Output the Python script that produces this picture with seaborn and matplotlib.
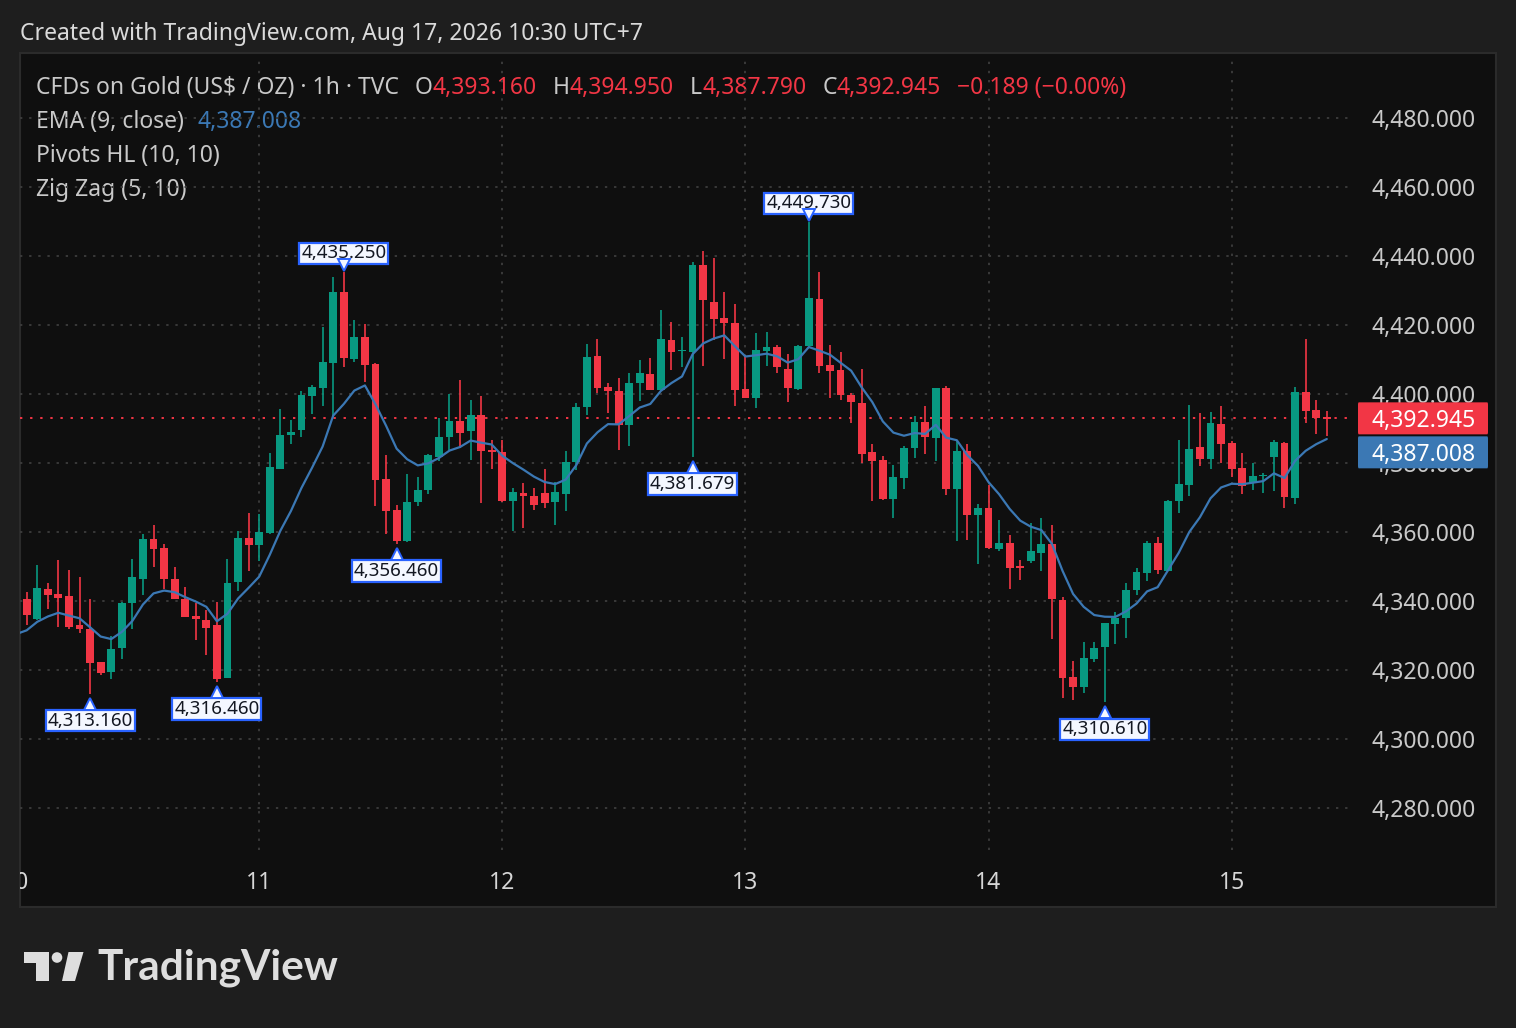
import numpy as np
import pandas as pd
import seaborn as sns
import matplotlib.pyplot as plt
from matplotlib import transforms
from matplotlib.patches import Rectangle, Polygon, Circle, FancyBboxPatch

# hourly candles, CFDs on Gold (TVC)
opens = [4332.0, 4340.6, 4334.7, 4343.4, 4341.9, 4341.5, 4333.0, 4332.0, 4322.2, 4319.5,
         4326.3, 4339.3, 4346.5, 4358.1, 4355.5, 4346.5, 4340.7, 4335.6, 4334.5, 4333.0,
         4317.8, 4345.5, 4358.3, 4356.3, 4359.7, 4378.4, 4388.0, 4389.5, 4399.3, 4401.8,
         4409.0, 4429.6, 4410.2, 4416.6, 4408.7, 4375.4, 4366.4, 4357.5, 4368.8, 4372.2,
         4381.8, 4387.4, 4392.2, 4389.2, 4394.0, 4383.9, 4383.2, 4369.0, 4371.2, 4370.5,
         4371.2, 4368.8, 4370.9, 4380.4, 4396.2, 4411.0, 4402.0, 4400.8, 4390.9, 4403.2,
         4405.8, 4401.3, 4415.7, 4412.4, 4412.3, 4437.3, 4426.8, 4422.0, 4420.7, 4401.5,
         4398.9, 4412.6, 4413.5, 4407.3, 4401.5, 4414.0, 4427.5, 4408.4, 4407.0, 4399.7,
         4397.4, 4383.2, 4380.8, 4369.6, 4375.7, 4384.3, 4391.8, 4387.3, 4401.6, 4372.5,
         4383.6, 4364.8, 4367.0, 4355.2, 4356.9, 4350.2, 4351.5, 4354.0, 4356.6, 4340.4,
         4317.9, 4315.0, 4323.2, 4326.7, 4333.2, 4335.2, 4343.1, 4348.2, 4356.9, 4348.7,
         4368.9, 4373.7, 4384.5, 4381.2, 4391.4, 4385.7, 4378.5, 4374.2, 4376.1, 4381.7,
         4385.7, 4369.9, 4400.7, 4395.4, 4393.16]
highs = [4342.0, 4342.6, 4350.4, 4345.1, 4352.0, 4349.1, 4347.0, 4340.7, 4322.4, 4330.0,
         4339.8, 4352.3, 4359.5, 4361.9, 4356.6, 4349.9, 4344.1, 4339.3, 4337.3, 4339.8,
         4352.3, 4360.2, 4365.6, 4365.3, 4383.0, 4395.7, 4392.4, 4401.0, 4402.5, 4419.3,
         4433.9, 4435.25, 4421.5, 4420.3, 4409.0, 4382.3, 4367.8, 4376.7, 4375.8, 4382.5,
         4393.1, 4400.1, 4404.1, 4398.3, 4399.3, 4386.6, 4386.6, 4372.7, 4374.3, 4372.7,
         4378.4, 4374.6, 4383.5, 4397.5, 4414.4, 4416.0, 4403.3, 4404.6, 4406.0, 4409.9,
         4410.5, 4424.4, 4420.8, 4416.6, 4438.3, 4441.4, 4439.5, 4429.7, 4426.2, 4411.3,
         4417.7, 4418.1, 4414.2, 4411.6, 4414.2, 4449.73, 4435.4, 4414.3, 4412.1, 4400.3,
         4407.3, 4385.6, 4381.9, 4379.3, 4384.8, 4393.6, 4396.6, 4401.6, 4402.2, 4386.7,
         4385.5, 4368.2, 4373.5, 4363.6, 4359.0, 4352.0, 4362.7, 4364.1, 4361.9, 4341.2,
         4322.7, 4328.0, 4328.0, 4333.5, 4336.7, 4345.1, 4349.6, 4357.4, 4358.5, 4369.3,
         4386.7, 4396.8, 4394.6, 4394.7, 4396.5, 4386.4, 4382.8, 4379.9, 4377.1, 4386.8,
         4386.2, 4401.9, 4416.0, 4398.3, 4394.95]
lows = [4330.0, 4333.0, 4334.5, 4337.8, 4332.5, 4332.0, 4330.6, 4313.16, 4318.5, 4317.4,
        4323.2, 4331.9, 4341.7, 4349.9, 4343.6, 4340.7, 4335.4, 4328.7, 4324.3, 4316.46,
        4317.8, 4342.8, 4348.6, 4351.5, 4359.5, 4378.2, 4385.5, 4387.4, 4394.3, 4396.4,
        4392.9, 4407.8, 4409.4, 4403.4, 4367.4, 4359.4, 4356.46, 4357.1, 4367.6, 4371.0,
        4380.6, 4383.7, 4384.4, 4380.8, 4368.3, 4378.4, 4368.8, 4360.3, 4361.3, 4366.4,
        4367.1, 4362.1, 4366.1, 4378.0, 4393.8, 4400.4, 4394.6, 4383.7, 4384.9, 4397.9,
        4401.3, 4401.3, 4407.1, 4407.7, 4381.679, 4408.2, 4415.7, 4410.1, 4396.5, 4398.8,
        4396.0, 4408.2, 4406.1, 4397.8, 4401.3, 4414.0, 4406.1, 4398.8, 4398.4, 4391.7,
        4380.1, 4369.1, 4369.4, 4364.1, 4372.6, 4381.4, 4382.6, 4380.7, 4370.6, 4357.3,
        4357.6, 4350.8, 4355.2, 4354.4, 4343.4, 4346.2, 4351.1, 4348.7, 4329.0, 4311.8,
        4311.2, 4313.2, 4322.2, 4310.61, 4327.5, 4329.4, 4341.7, 4345.7, 4347.9, 4348.7,
        4365.6, 4370.4, 4379.0, 4378.3, 4379.9, 4375.9, 4370.9, 4372.3, 4371.2, 4372.0,
        4367.1, 4368.0, 4391.7, 4388.3, 4387.79]
closes = [4340.0, 4335.9, 4343.8, 4341.7, 4340.9, 4332.5, 4331.9, 4321.9, 4319.0, 4326.0,
          4339.3, 4347.0, 4358.1, 4355.0, 4346.3, 4340.7, 4335.4, 4334.7, 4332.2, 4317.4,
          4345.1, 4358.3, 4356.3, 4360.0, 4378.7, 4388.2, 4389.0, 4399.6, 4402.0, 4409.4,
          4429.6, 4410.5, 4416.6, 4408.4, 4375.1, 4366.1, 4357.5, 4368.8, 4372.2, 4382.3,
          4387.6, 4392.2, 4388.8, 4394.0, 4383.4, 4383.2, 4369.0, 4371.5, 4370.5, 4367.9,
          4368.3, 4371.5, 4380.4, 4396.2, 4410.7, 4401.8, 4400.8, 4390.9, 4403.2, 4406.0,
          4401.3, 4416.0, 4412.3, 4412.7, 4437.3, 4427.2, 4421.7, 4420.7, 4401.3, 4398.9,
          4412.7, 4413.5, 4407.9, 4401.8, 4414.0, 4427.8, 4408.2, 4406.8, 4399.7, 4397.6,
          4382.5, 4380.7, 4369.6, 4375.8, 4384.3, 4391.8, 4387.4, 4401.6, 4372.5, 4383.6,
          4364.8, 4367.0, 4355.5, 4356.9, 4349.7, 4349.7, 4354.5, 4356.6, 4340.5, 4317.6,
          4315.2, 4323.4, 4326.4, 4333.5, 4335.2, 4343.3, 4348.4, 4356.9, 4348.9, 4369.0,
          4374.0, 4384.2, 4381.2, 4391.7, 4385.5, 4378.3, 4373.3, 4376.1, 4376.6, 4386.0,
          4370.2, 4400.5, 4395.2, 4393.134, 4392.945]

ema_seed = 4328.0          # EMA value just before the first visible bar
ema_shown = 4387.008       # value printed in the legend
day_labels = ["10", "11", "12", "13", "14", "15"]
day_starts = [0, 23, 46, 69, 92, 115]
price_ticks = [4280, 4300, 4320, 4340, 4360, 4380, 4400, 4420, 4440, 4460, 4480]
pivot_high_idx = [31, 75]
pivot_low_idx = [7, 19, 36, 64, 103]

# colours
BG = "#1e1e1e"
PANEL = "#0f0f0f"
BORDER = "#2b2b2b"
GREEN = "#089981"
RED = "#f23645"
EMA_C = "#3b78b4"
GRID = "#3a3a3a"
TXT = "#c9c9c9"
PIVOT_EC = "#2962ff"
FS = 16.5

W, H = 1516, 1028

sns.set_theme(style="dark", rc={"figure.facecolor": BG, "axes.facecolor": "none"})
plt.rcParams["font.family"] = ["Noto Sans", "DejaVu Sans"]

df = pd.DataFrame({"i": np.arange(len(closes)), "open": opens, "high": highs,
                   "low": lows, "close": closes})
df["ema"] = pd.Series([ema_seed] + closes).ewm(alpha=2 / 10, adjust=False).mean().iloc[1:].values

fig = plt.figure(figsize=(W / 100, H / 100), dpi=100)

# background layer in pixel coordinates
bg = fig.add_axes([0, 0, 1, 1])
bg.set_xlim(0, W)
bg.set_ylim(H, 0)
bg.axis("off")
bg.add_patch(Rectangle((20, 53), 1476, 854, fc=PANEL, ec=BORDER, lw=1.5))

# price pane: 3.45 px per dollar, 4480 sits at y=118
px_per = 3.45
ax = fig.add_axes([20 / W, (H - 907) / H, (1352 - 20) / W, (907 - 55) / H])
ax.set_zorder(2)
ax.set_facecolor("none")
ax.set_ylim(4480 - (907 - 118) / px_per, 4480 + (118 - 55) / px_per)
ax.set_xlim((20 - 16.1) / 10.57, (1352 - 16.1) / 10.57)
for s in ax.spines.values():
    s.set_visible(False)
ax.set_xticks([])
ax.set_yticks([])

dots = (0, (1.2, 3.5))
for p in price_ticks:
    ax.axhline(p, color=GRID, lw=1.4, ls=dots, zorder=0)
for d in day_starts:
    ax.axvline(d, ymin=(907 - 850) / (907 - 55), ymax=1, color=GRID, lw=1.4, ls=dots, zorder=0)

# candles
up = df["close"] >= df["open"]
cols = np.where(up, GREEN, RED)
ax.vlines(df["i"], df["low"], df["high"], colors=cols, lw=1.2, zorder=2)
body = (df["close"] - df["open"]).abs().clip(lower=0.35)
mid = (df["close"] + df["open"]) / 2
ax.bar(df["i"], body, bottom=mid - body / 2, width=0.74, color=cols, linewidth=0, zorder=2)

# EMA (9, close)
sns.lineplot(data=df, x="i", y="ema", ax=ax, color=EMA_C, lw=1.6, zorder=3)
ax.set_xlabel("")
ax.set_ylabel("")

# last price line
last = df["close"].iloc[-1]
ax.axhline(last, color=RED, lw=1.4, ls=(0, (1.2, 4)), zorder=1)


# pivot labels
def pivot(i, v, high):
    sign = 1 if high else -1
    gap = 21 if high else 25
    ax.annotate(f"{v:,.3f}", xy=(i, v), xytext=(0, sign * gap), textcoords="offset pixels",
                ha="center", va="center_baseline", fontsize=13.5, color="#131722", zorder=6,
                bbox=dict(boxstyle="square,pad=0.1", fc="#f4f7ff", ec=PIVOT_EC, lw=1.6))
    off = transforms.offset_copy(ax.transData, fig=fig, x=0, y=sign * (7 if high else 10), units="dots")
    ax.plot([i], [v], marker="v" if high else "^", ms=8, mfc="#f4f7ff", mec=PIVOT_EC,
            mew=1.4, transform=off, zorder=7, clip_on=False)


for i in pivot_high_idx:
    pivot(i, df["high"].iloc[i], True)
for i in pivot_low_idx:
    pivot(i, df["low"].iloc[i], False)

# time scale
y_time = 4480 - (880 - 118) / px_per
for d, lab in zip(day_starts, day_labels):
    ax.text(d, y_time, lab, ha="center", va="center_baseline", fontsize=FS, color="#d6d6d6",
            fontweight="semibold", clip_on=True)

# price scale
trans = transforms.blended_transform_factory(bg.transData, ax.transData)
for p in price_ticks:
    ax.text(1372, p, f"{p:,.3f}", transform=trans, ha="left", va="center_baseline",
            fontsize=FS, color=TXT, clip_on=False, zorder=5)
box_h = 32 / px_per
ax.add_patch(FancyBboxPatch((1358, last - box_h / 2), 130, box_h, transform=trans, fc=RED,
                            ec="none", boxstyle="round,pad=0,rounding_size=0.8",
                            mutation_aspect=1 / px_per * 3, clip_on=False, zorder=8))
ax.text(1372, last, f"{last:,.3f}", transform=trans, ha="left", va="center_baseline",
        fontsize=FS, color="white", clip_on=False, zorder=9)
ema_box = last - box_h - 2 / px_per
ax.add_patch(FancyBboxPatch((1358, ema_box - box_h / 2), 130, box_h, transform=trans, fc=EMA_C,
                            ec="none", boxstyle="round,pad=0,rounding_size=0.8",
                            mutation_aspect=1 / px_per * 3, clip_on=False, zorder=8))
ax.text(1372, ema_box, f"{ema_shown:,.3f}", transform=trans, ha="left", va="center_baseline",
        fontsize=FS, color="white", clip_on=False, zorder=9)

# header and legend
bg.text(20, 31, "Created with TradingView.com, Aug 17, 2026 10:30 UTC+7", fontsize=FS,
        color="#dadada", va="center_baseline", ha="left")

o, h, l, c = opens[-1], highs[-1], lows[-1], closes[-1]
chg = c - closes[-2]
row1 = [("CFDs on Gold (US$ / OZ) · 1h · TVC", TXT, 0), ("O", TXT, 16), (f"{o:,.3f}", RED, 0),
        ("H", TXT, 16), (f"{h:,.3f}", RED, 0), ("L", TXT, 16), (f"{l:,.3f}", RED, 0),
        ("C", TXT, 16), (f"{c:,.3f}", RED, 0),
        (f"{chg:+.3f} ({chg / closes[-2] * 100:+.2f}%)".replace("-", "\u2212"), RED, 16)]
row2 = [("EMA (9, close)", TXT, 0), (f"{ema_shown:,.3f}", EMA_C, 14)]


def legend_row(parts, y):
    prev = None
    for text, color, gap in parts:
        if prev is None:
            prev = bg.text(36, y, text, fontsize=FS, color=color, va="center_baseline", ha="left")
        else:
            prev = bg.annotate(text, xy=(1, 0.5), xycoords=prev, xytext=(gap, 0),
                               textcoords="offset pixels", fontsize=FS, color=color,
                               va="center", ha="left")


legend_row(row1, 85)
legend_row(row2, 119)
bg.text(36, 153, "Pivots HL (10, 10)", fontsize=FS, color=TXT, va="center_baseline")
bg.text(36, 187, "Zig Zag (5, 10)", fontsize=FS, color=TXT, va="center_baseline")

# TradingView logo
LOGO = "#dedede"
bg.add_patch(Polygon([(23.5, 952), (48.5, 952), (48.5, 981), (36, 981), (36, 963), (23.5, 963)],
                     fc=LOGO, ec="none"))
bg.add_patch(Circle((57, 957.5), 5.3, fc=LOGO, ec="none"))
bg.add_patch(Polygon([(68.5, 952), (83.5, 952), (75, 981), (62, 981)], fc=LOGO, ec="none"))
bg.text(97, 968, "TradingView", fontsize=30.5, fontweight="bold", color=LOGO, va="center",
        ha="left", family=["Lato", "DejaVu Sans"])

fig.savefig("out.png", dpi=100, facecolor=BG)
